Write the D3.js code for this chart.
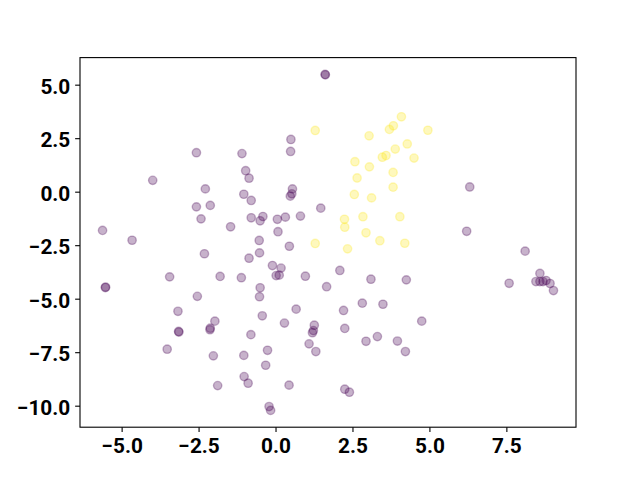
<!DOCTYPE html>
<html>
<head>
<meta charset="utf-8">
<script src="https://cdn.jsdelivr.net/npm/d3@7"></script>
<style>
  html, body { margin: 0; padding: 0; background: #fff; }
  svg { display: block; }
</style>
</head>
<body>
<svg id="chart" width="640" height="480"></svg>
<script>
// Class 0 (purple) points: x values and y values
const purpleX = [1.61, 1.62, 0.50, 0.49, -2.57, -1.09, -0.97, -0.86, -3.99, -2.28,
  0.55, 0.53, 0.48, 6.31, -1.03, -0.79, -2.57, -2.12, -2.42, -1.46,
  -0.79, -5.62, -4.66, -2.31, -0.86, -3.44, -1.80, -1.11, -5.53, -5.52,
  -2.54, -3.17, 1.47, -0.41, -0.50, 0.06, 0.32, 0.81, 0.08, -0.53,
  0.45, -0.52, -0.10, 0.18, 0.02, 0.12, 0.97, 2.09, 3.10, 4.25,
  1.66, -0.50, -0.52, 0.67, 2.21, 2.82, 3.49, 6.21, 8.11, 7.59,
  8.59, 8.46, 8.59, 8.69, 8.79, 8.92, 9.03, -3.15, -3.14, -1.97,
  -2.12, -2.13, -0.80, -3.52, -2.02, -1.03, -1.02, -0.89, -1.88, -0.43,
  0.29, 1.26, 1.23, 1.20, 2.25, 2.94, 3.31, 3.96, 4.22, 1.09,
  1.31, -0.26, -0.32, 0.44, 2.25, 2.40, -0.21, -0.16, 4.75];
const purpleY = [5.48, 5.46, 2.44, 1.88, 1.82, 1.78, 0.98, 0.63, 0.53, 0.13,
  0.13, -0.10, -0.21, 0.22, -0.12, -0.41, -0.71, -0.64, -1.27, -1.64,
  -1.22, -1.81, -2.27, -2.90, -3.11, -3.98, -3.96, -4.02, -4.48, -4.46,
  -4.89, -5.59, -0.77, -1.16, -1.36, -1.29, -1.19, -1.14, -1.87, -2.28,
  -2.55, -2.86, -3.45, -3.57, -3.92, -3.90, -3.95, -3.68, -4.09, -4.12,
  -4.44, -4.49, -4.91, -5.49, -5.55, -5.21, -5.26, -1.85, -2.78, -4.28,
  -3.82, -4.20, -4.20, -4.20, -4.15, -4.29, -4.62, -6.53, -6.56, -6.05,
  -6.38, -6.45, -6.68, -7.36, -7.67, -7.65, -8.64, -8.95, -9.06, -5.80,
  -6.14, -6.24, -6.49, -6.59, -6.39, -6.99, -6.77, -6.98, -7.47, -7.11,
  -7.47, -7.41, -8.11, -9.04, -9.23, -9.37, -10.04, -10.22, -6.05];

// Class 1 (yellow) points
const yellowX = [1.29, 4.09, 3.83, 3.70, 3.04, 4.28, 3.89, 3.59, 3.47, 2.58,
  3.05, 3.82, 2.65, 3.82, 4.95, 4.50, 2.56, 3.12, 2.24, 2.25,
  2.84, 4.04, 2.94, 3.39, 4.20, 1.29, 2.34];
const yellowY = [2.86, 3.50, 3.08, 2.91, 2.61, 2.23, 1.99, 1.69, 1.61, 1.40,
  1.16, 0.90, 0.64, 0.21, 2.87, 1.57, -0.13, -0.29, -1.29, -1.66,
  -1.17, -1.17, -1.92, -2.29, -2.41, -2.42, -2.67];

const xTicks = [-5.0, -2.5, 0.0, 2.5, 5.0, 7.5];
const yTicks = [-10.0, -7.5, -5.0, -2.5, 0.0, 2.5, 5.0];

const points = [];
purpleX.forEach((x, i) => points.push({x, y: purpleY[i], c: 0}));
yellowX.forEach((x, i) => points.push({x, y: yellowY[i], c: 1}));

const W = 640, H = 480;
const mLeft = 80, mRight = 576, mTop = 57.6, mBottom = 427.2;

function padded(ext) {
  const s = ext[1] - ext[0];
  return [ext[0] - 0.05 * s, ext[1] + 0.05 * s];
}
const xs = d3.scaleLinear().domain(padded(d3.extent(points, d => d.x))).range([mLeft, mRight]);
const ys = d3.scaleLinear().domain(padded(d3.extent(points, d => d.y))).range([mBottom, mTop]);

const colors = ["#440154", "#fde725"];
const svg = d3.select("#chart");
svg.append("rect").attr("width", W).attr("height", H).attr("fill", "#fff");

const fmt = d => d.toFixed(1).replace("-", "\u2212");
const font = "Roboto";

svg.append("g")
  .selectAll("circle").data(points).enter().append("circle")
  .attr("cx", d => xs(d.x)).attr("cy", d => ys(d.y)).attr("r", 4.17)
  .attr("fill", d => colors[d.c]).attr("fill-opacity", 0.3)
  .attr("stroke", d => colors[d.c]).attr("stroke-opacity", 0.3)
  .attr("stroke-width", 1.39);

const xAxis = d3.axisBottom(xs).tickValues(xTicks).tickFormat(fmt).tickSizeOuter(0).tickSize(4.86).tickPadding(4.86);
const yAxis = d3.axisLeft(ys).tickValues(yTicks).tickFormat(fmt).tickSizeOuter(0).tickSize(4.86).tickPadding(4.86);

const gx = svg.append("g").attr("transform", `translate(0,${mBottom})`).call(xAxis);
const gy = svg.append("g").attr("transform", `translate(${mLeft},0)`).call(yAxis);
[gx, gy].forEach(g => {
  g.select(".domain").remove();
  g.selectAll(".tick line").attr("stroke", "#000").attr("stroke-width", 1.1);
  g.selectAll(".tick text").attr("fill", "#000")
    .style("font-family", font).style("font-weight", "bold").style("font-size", "20.8px");
});
gx.selectAll(".tick text").attr("dy", "0.76em");
gy.selectAll(".tick text").attr("dy", "0.4em");

svg.append("rect").attr("x", mLeft).attr("y", mTop)
  .attr("width", mRight - mLeft).attr("height", mBottom - mTop)
  .attr("fill", "none").attr("stroke", "#000").attr("stroke-width", 1.1);
</script>
</body>
</html>
